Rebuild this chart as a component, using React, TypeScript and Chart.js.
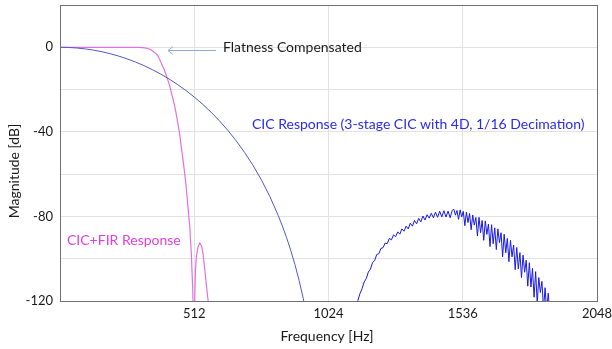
import React, { useEffect, useRef } from "react";
import { Chart, registerables } from "chart.js";

Chart.register(...registerables);

// Tick values
const xTicks = [0, 512, 1024, 1536, 2048];
const yMin = -120;
const yMax = 20;

// CIC+FIR response (magenta)
const firFreq = [0, 100, 200, 280, 304, 324, 343, 354, 368, 375, 381, 388, 396, 403.5, 411, 419, 426, 434, 441.6, 449, 457, 464, 472, 480, 487, 495, 501, 506, 508.6, 510, 512, 514, 516.5, 520, 526, 533, 540, 546, 552, 558, 565, 572];
const firDb = [0, 0, 0, 0, 0, -0.25, -0.95, -1.8, -3.2, -4.4, -6.0, -8.0, -10.2, -12.6, -15.4, -18.5, -22.0, -25.9, -30.4, -35.6, -41.6, -48.4, -56, -64.5, -74, -85, -98, -114, -125, -140, -135, -118, -106, -99, -94.5, -92.6, -94, -98, -105, -112, -120, -132];

// CIC response main lobe (blue)
const cicMainFreq = [0, 32, 64, 96, 128, 160, 192, 224, 256, 288, 320, 352, 384, 416, 448, 480, 512, 544, 576, 608, 640, 672, 704, 736, 768, 800, 832, 848, 864, 880, 896, 912, 928, 944, 960, 976];
const cicMainDb = [0, -0.08, -0.34, -0.76, -1.35, -2.11, -3.05, -4.17, -5.47, -6.97, -8.65, -10.56, -12.67, -15.01, -17.59, -20.42, -23.53, -26.95, -30.68, -34.78, -39.29, -44.25, -49.74, -55.86, -62.7, -70.5, -79.5, -84.5, -90.0, -96.0, -102.8, -110.3, -119.0, -129.2, -141.5, -160];

// CIC response alias lobe (blue, noisy)
const cicAliasFreq = [
  1120, 1128, 1136, 1144, 1152, 1160, 1168, 1176, 1184, 1192, 1200, 1208, 1216, 1224, 1232, 1240, 1248, 1256, 1264, 1272, 1280, 1288, 1296, 1304, 1312, 1320, 1328, 1336, 1344, 1352, 1360, 1368, 1376, 1384, 1392, 1400, 1408, 1416, 1424, 1432, 1440, 1448, 1456, 1464, 1472, 1480, 1488, 1496,
  1502, 1508, 1514, 1520, 1526, 1532, 1538, 1544, 1550, 1556, 1562, 1568, 1574, 1580, 1586, 1592, 1598, 1604, 1610, 1616, 1622, 1628, 1634, 1640, 1646, 1652, 1658, 1664, 1670, 1676, 1682, 1688, 1694, 1700, 1706, 1712, 1718, 1724, 1730, 1736, 1742, 1748, 1754, 1760, 1766, 1772, 1778, 1784, 1790, 1796, 1802, 1808, 1814, 1820, 1826, 1832, 1838, 1844, 1850, 1856, 1862, 1868, 1874, 1880
];
const cicAliasDb = [
  -133, -125.5, -119.8, -116.5, -114.2, -111.0, -109.4, -106.3, -104.9, -101.8, -100.9, -98.0, -97.6, -95.1, -94.8, -92.6, -92.9, -90.4, -91.1, -88.7, -89.6, -87.3, -88.4, -85.9, -87.0, -84.6, -85.9, -83.2, -84.6, -81.9, -83.5, -80.9, -82.6, -79.8, -81.7, -79.2, -80.8, -78.5, -80.6, -78.0, -80.4, -77.6, -80.2, -77.3, -80.3, -77.5, -80.6, -77.1,
  -76.6, -79.4, -77.2, -81.4, -76.9, -80.2, -77.6, -84.4, -77.9, -82.9, -78.6, -86.3, -79.3, -84.1, -80.5, -89.3, -80.4, -87.7, -81.9, -91.3, -82.1, -88.5, -83.6, -94.3, -83.9, -92.9, -85.4, -95.7, -85.9, -92.4, -87.7, -99.1, -88.4, -97.2, -90.4, -101.4, -91.3, -99.1, -93.5, -105.2, -94.7, -104.8, -97.1, -108.9, -98.3, -106.4, -100.7, -113.0, -101.9, -113.4, -104.6, -118.2, -106.1, -121, -108.9, -116.0, -110.7, -124, -113.7, -125, -116.3, -126, -120.5, -128
];

const FONT = "Lato, 'Open Sans', sans-serif";

function zip(fs: number[], ds: number[]) {
  return fs.map((f, i) => ({ x: f, y: ds[i] }));
}

const annotPlugin = {
  id: "annot",
  afterDraw(chart: any) {
    const ctx = chart.ctx as CanvasRenderingContext2D;
    const a = chart.chartArea;
    ctx.save();
    // plot border
    ctx.strokeStyle = "#707070";
    ctx.lineWidth = 1;
    ctx.strokeRect(Math.round(a.left) + 0.5, Math.round(a.top) + 0.5, Math.round(a.right - a.left), Math.round(a.bottom - a.top));

    // axis titles
    ctx.fillStyle = "#1a1a1a";
    ctx.font = `14px ${FONT}`;
    ctx.textAlign = "center";
    ctx.textBaseline = "middle";
    ctx.fillText("Frequency [Hz]", 327, 336);
    ctx.save();
    ctx.translate(14, 171);
    ctx.rotate(-Math.PI / 2);
    ctx.fillText("Magnitude [dB]", 0, 0);
    ctx.restore();

    // annotations
    ctx.textAlign = "left";
    ctx.fillStyle = "#1a1a1a";
    ctx.fillText("Flatness Compensated", 223, 47);

    ctx.strokeStyle = "#8eaad6";
    ctx.lineWidth = 1;
    ctx.beginPath();
    ctx.moveTo(216, 50.5);
    ctx.lineTo(168, 50.5);
    ctx.moveTo(173, 46.5);
    ctx.lineTo(168, 50.5);
    ctx.lineTo(173, 54.5);
    ctx.stroke();

    ctx.fillStyle = "#2a2aee";
    ctx.fillText("CIC Response (3-stage CIC with 4D, 1/16 Decimation)", 252, 124);

    ctx.fillStyle = "#e040e0";
    ctx.fillText("CIC+FIR Response", 67, 240);
    ctx.restore();
  },
};

export default function App() {
  const ref = useRef<HTMLCanvasElement | null>(null);
  useEffect(() => {
    document.body.style.margin = "0";
    const canvas = ref.current!;
    const chart = new Chart(canvas, {
      type: "line",
      data: {
        datasets: [
          {
            data: zip(cicMainFreq, cicMainDb),
            borderColor: "rgb(85,85,200)",
            borderWidth: 1,
            pointRadius: 0,
            tension: 0,
          },
          {
            data: zip(cicAliasFreq, cicAliasDb),
            borderColor: "rgb(25,25,230)",
            borderWidth: 1,
            pointRadius: 0,
            tension: 0,
          },
          {
            data: zip(firFreq, firDb),
            borderColor: "rgb(222,115,222)",
            borderWidth: 1.2,
            pointRadius: 0,
            tension: 0,
          },
        ],
      },
      options: {
        responsive: false,
        animation: false,
        devicePixelRatio: 1,
        layout: { padding: { top: 5, right: 15, left: 0, bottom: 0 } },
        plugins: { legend: { display: false }, tooltip: { enabled: false } },
        scales: {
          x: {
            type: "linear",
            min: xTicks[0],
            max: xTicks[xTicks.length - 1],
            afterBuildTicks: (s: any) => {
              s.ticks = xTicks.map((v) => ({ value: v }));
            },
            ticks: {
              callback: (v: any) => (v === 0 ? "" : String(v)),
              font: { family: FONT, size: 13 },
              color: "#1a1a1a",
              padding: 5,
              maxRotation: 0,
              autoSkip: false,
            },
            grid: { color: "#e2e2e2", drawTicks: false, lineWidth: 1 },
            border: { display: false },
            afterFit: (s: any) => {
              s.height = 48;
              s.paddingLeft = 0;
              s.paddingRight = 0;
            },
          },
          y: {
            min: yMin,
            max: yMax,
            ticks: {
              stepSize: 20,
              callback: (v: any) => (Number(v) % 40 === 0 && Number(v) <= 0 ? String(v) : ""),
              font: { family: FONT, size: 13 },
              color: "#1a1a1a",
              padding: 7,
            },
            grid: { color: "#e2e2e2", drawTicks: false, lineWidth: 1 },
            border: { display: false },
            afterFit: (s: any) => {
              s.width = 60;
              s.paddingTop = 0;
              s.paddingBottom = 0;
            },
          },
        },
      },
      plugins: [annotPlugin],
    });
    return () => chart.destroy();
  }, []);
  return (
    <div style={{ width: 612, height: 349 }}>
      <canvas ref={ref} width={612} height={349} style={{ display: "block" }} />
    </div>
  );
}
